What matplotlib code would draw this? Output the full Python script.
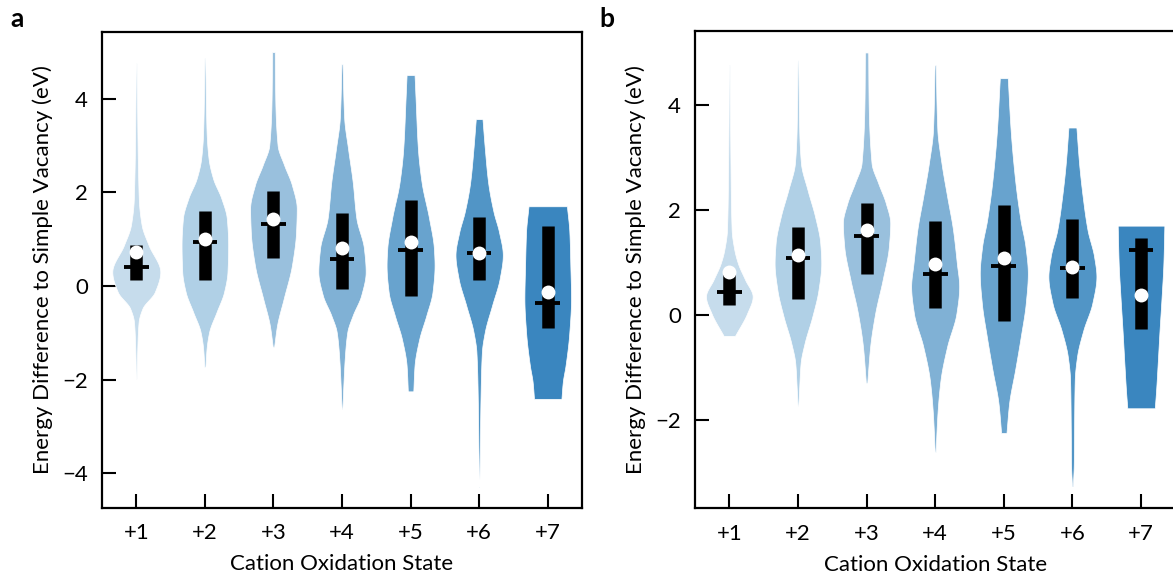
import numpy as np
import matplotlib
matplotlib.use("Agg")
import matplotlib.pyplot as plt

plt.rcParams['font.family'] = ['Lato', 'DejaVu Sans']

categories = ['+1', '+2', '+3', '+4', '+5', '+6', '+7']
colors = ['#c6dcec', '#b0d0e6', '#99c0dd', '#80b1d5', '#68a3ce', '#5195c6', '#3a86bf']

# ---------------- Panel a: density profiles (value, half-width) ----------------
a_prof_y = [
    [4.75, 1.87, 1.30, 0.87, 0.30, -0.13, -0.48, -0.77, -1.34, -1.98],
    [4.86, 3.29, 2.72, 2.29, 1.87, 1.44, 0.87, 0.30, -0.13, -0.56, -0.98, -1.34, -1.73],
    [4.99, 4.00, 3.00, 2.58, 2.15, 1.65, 1.15, 0.44, -0.27, -0.84, -1.30],
    [4.74, 3.58, 2.93, 2.22, 1.44, 0.80, 0.30, -0.20, -0.63, -0.98, -1.55, -2.12, -2.62],
    [4.50, 4.00, 2.93, 2.22, 1.44, 0.80, 0.44, -0.13, -0.63, -1.13, -1.70, -2.25],
    [3.56, 2.93, 2.22, 1.58, 1.15, 0.66, 0.16, -0.41, -0.98, -1.41, -2.41, -3.48, -4.29],
    [1.70, 1.15, 0.44, -0.27, -0.98, -1.70, -2.05, -2.41],
]
a_prof_w = [
    [0.005, 0.036, 0.078, 0.18, 0.35, 0.27, 0.09, 0.034, 0.015, 0.005],
    [0.006, 0.025, 0.054, 0.12, 0.24, 0.32, 0.34, 0.33, 0.28, 0.17, 0.063, 0.025, 0.008],
    [0.02, 0.027, 0.061, 0.156, 0.27, 0.34, 0.33, 0.27, 0.15, 0.053, 0.01],
    [0.008, 0.032, 0.088, 0.156, 0.21, 0.32, 0.345, 0.28, 0.156, 0.078, 0.04, 0.02, 0.006],
    [0.058, 0.073, 0.107, 0.16, 0.27, 0.34, 0.35, 0.32, 0.23, 0.127, 0.058, 0.04],
    [0.049, 0.083, 0.13, 0.21, 0.29, 0.345, 0.30, 0.19, 0.083, 0.04, 0.02, 0.01, 0.004],
    [0.28, 0.316, 0.33, 0.34, 0.316, 0.26, 0.22, 0.20],
]
a_q1 = [0.12, 0.12, 0.60, -0.07, -0.21, 0.13, -0.89]
a_q3 = [0.87, 1.60, 2.02, 1.55, 1.83, 1.47, 1.28]
a_median = [0.41, 0.94, 1.33, 0.58, 0.76, 0.70, -0.36]
a_mean = [0.73, 1.01, 1.42, 0.81, 0.94, 0.70, -0.14]

# ---------------- Panel b ----------------
b_prof_y = [
    [4.76, 2.89, 1.62, 1.24, 0.98, 0.67, 0.35, 0.03, -0.40],
    [4.86, 3.52, 2.89, 2.38, 1.87, 1.37, 0.98, 0.48, -0.03, -0.54, -0.92, -1.37, -1.73],
    [5.00, 4.16, 2.89, 2.51, 2.13, 1.75, 1.30, 0.67, 0.03, -0.60, -1.30],
    [4.76, 3.52, 2.89, 2.25, 1.62, 0.98, 0.54, 0.03, -0.60, -1.24, -1.87, -2.62],
    [4.51, 3.52, 2.57, 1.81, 1.30, 0.79, 0.22, -0.41, -1.05, -1.68, -2.25],
    [3.57, 2.89, 2.25, 1.62, 1.11, 0.73, 0.22, -0.29, -0.79, -1.24, -2.19, -2.83, -3.27],
    [1.70, 0.98, 0.35, -0.29, -0.92, -1.43, -1.78],
]
b_prof_w = [
    [0.005, 0.017, 0.034, 0.073, 0.126, 0.23, 0.34, 0.26, 0.083],
    [0.006, 0.019, 0.044, 0.14, 0.25, 0.325, 0.34, 0.30, 0.21, 0.097, 0.039, 0.019, 0.006],
    [0.024, 0.029, 0.073, 0.17, 0.28, 0.345, 0.325, 0.235, 0.126, 0.053, 0.01],
    [0.008, 0.032, 0.092, 0.175, 0.26, 0.316, 0.35, 0.31, 0.175, 0.078, 0.034, 0.006],
    [0.058, 0.10, 0.165, 0.243, 0.316, 0.35, 0.32, 0.248, 0.165, 0.078, 0.039],
    [0.058, 0.097, 0.15, 0.22, 0.316, 0.35, 0.29, 0.16, 0.068, 0.034, 0.024, 0.02, 0.006],
    [0.34, 0.326, 0.30, 0.27, 0.243, 0.22, 0.20],
]
b_q1 = [0.19, 0.30, 0.78, 0.13, -0.11, 0.32, -0.27]
b_q3 = [0.78, 1.68, 2.13, 1.78, 2.10, 1.82, 1.46]
b_median = [0.43, 1.08, 1.50, 0.77, 0.93, 0.89, 1.24]
b_mean = [0.82, 1.14, 1.61, 0.96, 1.08, 0.92, 0.38]

yticks_a = [-4, -2, 0, 2, 4]
yticks_b = [-2, 0, 2, 4]
ylim_a = (-4.74, 5.43)
ylim_b = (-3.69, 5.40)

FS = 16


def pchip(xk, yk, xq):
    """Monotone cubic (Fritsch-Carlson) curve through the knots, for smooth outlines."""
    xk = np.asarray(xk, float)
    yk = np.asarray(yk, float)
    h = np.diff(xk)
    d = np.diff(yk) / h
    n = len(xk)
    m = np.zeros(n)
    for k in range(1, n - 1):
        if d[k - 1] * d[k] > 0:
            w1 = 2 * h[k] + h[k - 1]
            w2 = h[k] + 2 * h[k - 1]
            m[k] = (w1 + w2) / (w1 / d[k - 1] + w2 / d[k])
    m[0] = d[0]
    m[-1] = d[-1]
    idx = np.clip(np.searchsorted(xk, xq) - 1, 0, n - 2)
    t = (xq - xk[idx]) / h[idx]
    h00 = 2 * t**3 - 3 * t**2 + 1
    h10 = t**3 - 2 * t**2 + t
    h01 = -2 * t**3 + 3 * t**2
    h11 = t**3 - t**2
    return h00 * yk[idx] + h10 * h[idx] * m[idx] + h01 * yk[idx + 1] + h11 * h[idx] * m[idx + 1]


fig = plt.figure(figsize=(11.73, 5.82), dpi=100)
ax_a = fig.add_axes([0.08696, 0.12715, 0.4092, 0.8187])
ax_b = fig.add_axes([0.5925, 0.1263, 0.4095, 0.8196])


def draw(ax, prof_y, prof_w, q1, q3, med, mean, yticks, ylim):
    pos = np.arange(1, len(categories) + 1)
    for i, p in enumerate(pos):
        y = np.array(prof_y[i])[::-1]
        w = np.array(prof_w[i])[::-1]
        yy = np.linspace(y[0], y[-1], 300)
        ww = np.clip(pchip(y, w, yy), 0.003, None)
        ax.fill_betweenx(yy, p - ww, p + ww, facecolor=colors[i],
                         edgecolor='white', linewidth=0.5, zorder=2)
    ax.vlines(pos, q1, q3, colors='black', linewidth=9, capstyle='butt', zorder=3)
    ax.hlines(med, pos - 0.18, pos + 0.18, colors='black', linewidth=2.8, zorder=4)
    ax.plot(pos, mean, 'o', color='white', markersize=10, markeredgewidth=0, zorder=5)
    ax.set_xlim(0.5, len(categories) + 0.5)
    ax.set_ylim(*ylim)
    ax.set_xticks(pos)
    ax.set_xticklabels(categories)
    ax.set_yticks(yticks)
    ax.tick_params(direction='in', length=10, width=1.5, labelsize=FS,
                   top=False, right=False)
    ax.tick_params(axis='x', pad=11)
    ax.tick_params(axis='y', pad=10)
    for s in ax.spines.values():
        s.set_linewidth(1.6)
    ax.set_xlabel('Cation Oxidation State', fontsize=FS, labelpad=8)
    ax.set_ylabel('Energy Difference to Simple Vacancy (eV)', fontsize=FS, labelpad=7)


draw(ax_a, a_prof_y, a_prof_w, a_q1, a_q3, a_median, a_mean, yticks_a, ylim_a)
draw(ax_b, b_prof_y, b_prof_w, b_q1, b_q3, b_median, b_mean, yticks_b, ylim_b)

fig.text(10 / 1173, 1 - 27 / 582, 'a', fontsize=19, fontweight='bold', va='baseline')
fig.text(599 / 1173, 1 - 27 / 582, 'b', fontsize=19, fontweight='bold', va='baseline')

fig.savefig('out.png', dpi=100)
